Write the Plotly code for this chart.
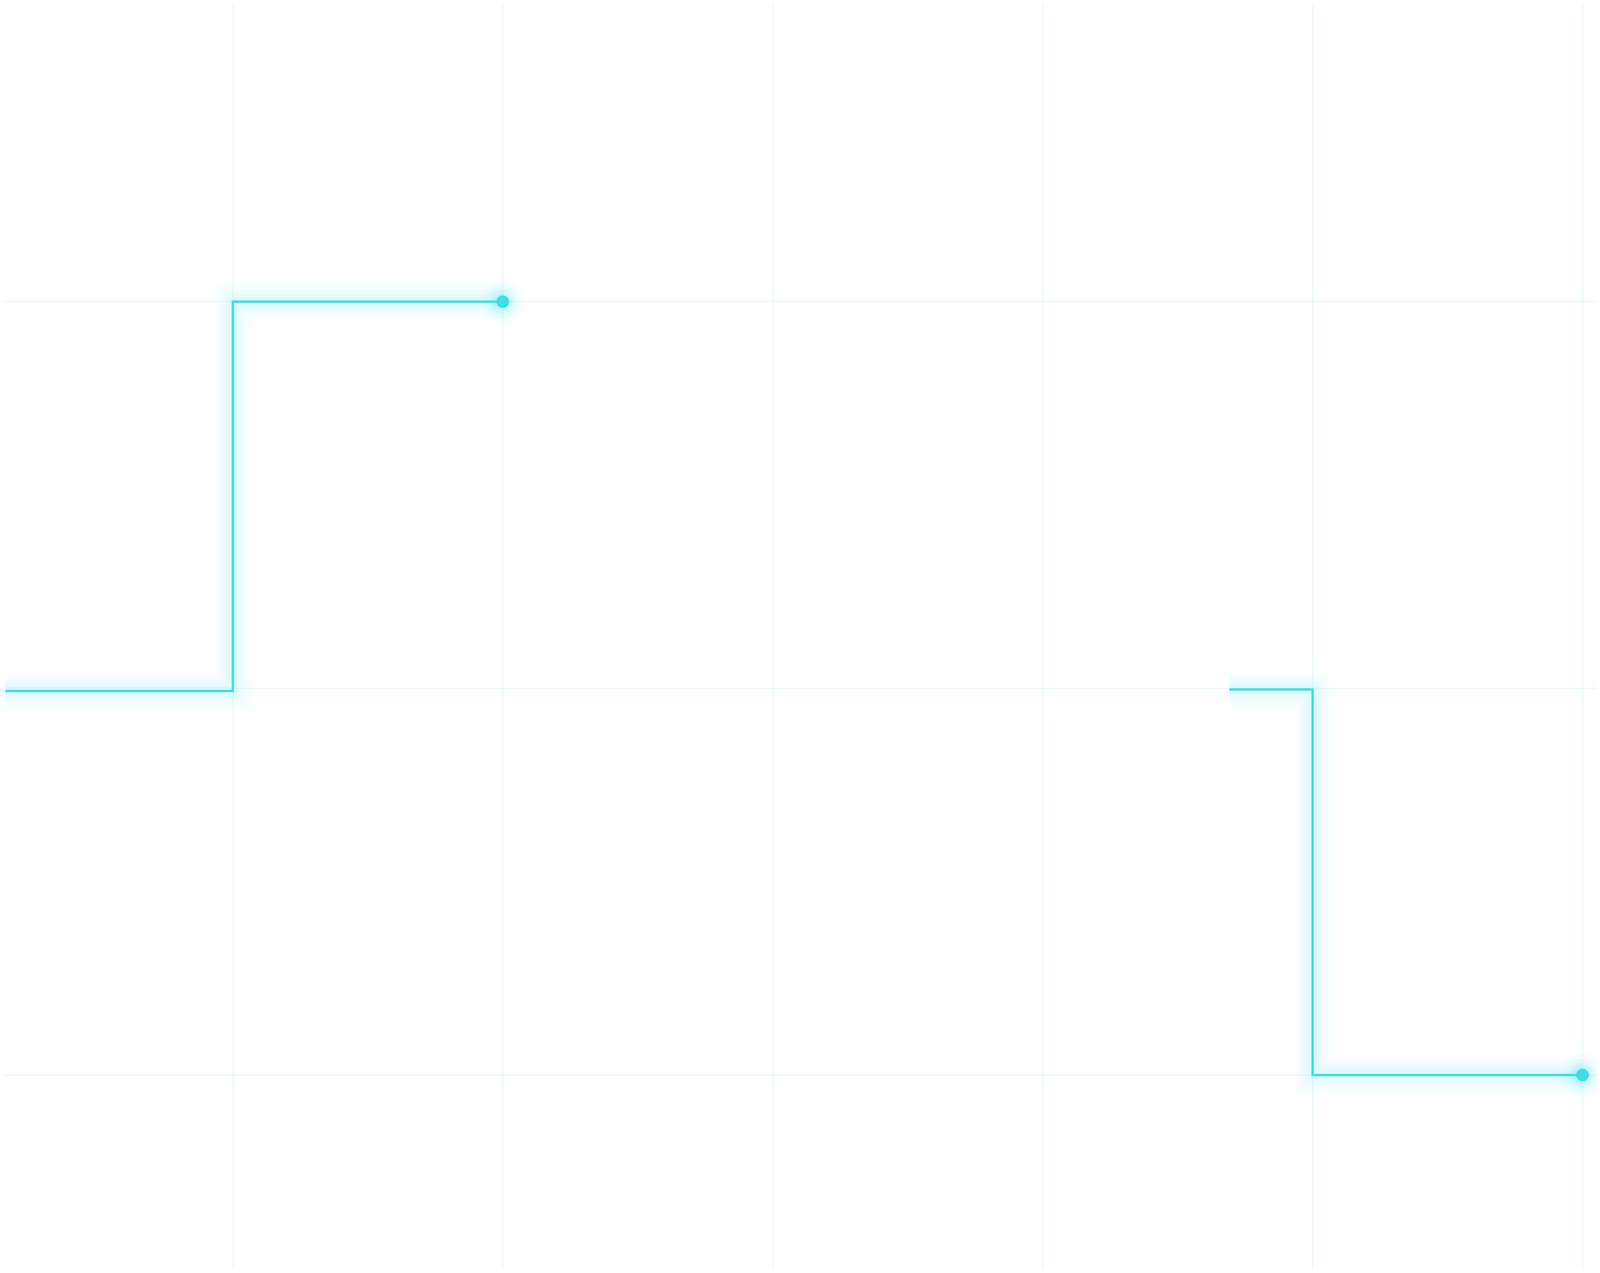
import plotly.graph_objects as go

# step series, two runs split by a gap (None)
x_vals = [0.157, 1, 2, None, 4.692, 5, 6]
y_vals = [1.993, 3, 3, None, 1.997, 1, 1]

# end-of-run points that get a dot
end_x = [2, 6]
end_y = [3, 1]

line_color = "#40dde3"
glow_color = "0, 225, 240"

fig = go.Figure()

# soft glow: several wide, faint copies under the main line
for w, a in [(100, 0.014), (80, 0.018), (60, 0.024), (40, 0.032), (22, 0.045)]:
    fig.add_trace(go.Scatter(
        x=x_vals, y=y_vals, mode="lines",
        line=dict(shape="hv", width=w, color=f"rgba({glow_color},{a})"),
        connectgaps=False, hoverinfo="skip", showlegend=False,
    ))
for s, a in [(110, 0.03), (85, 0.045), (62, 0.07), (45, 0.09)]:
    fig.add_trace(go.Scatter(
        x=end_x, y=end_y, mode="markers",
        marker=dict(size=s, color=f"rgba({glow_color},{a})", line=dict(width=0)),
        hoverinfo="skip", showlegend=False,
    ))

fig.add_trace(go.Scatter(
    x=x_vals, y=y_vals, mode="lines",
    line=dict(shape="hv", width=6, color=line_color),
    connectgaps=False, showlegend=False,
))
fig.add_trace(go.Scatter(
    x=end_x, y=end_y, mode="markers",
    marker=dict(size=32, color=line_color, line=dict(width=0)),
    showlegend=False,
))

grid = "rgba(0, 190, 210, 0.07)"
fig.update_xaxes(range=[0.149, 6.053], dtick=1, tick0=0, showgrid=True, gridcolor=grid,
                 gridwidth=3, zeroline=False, showticklabels=False, showline=False)
fig.update_yaxes(range=[0.496, 3.772], dtick=1, tick0=0, showgrid=True, gridcolor=grid,
                 gridwidth=3, zeroline=False, showticklabels=False, showline=False)
fig.update_layout(
    margin=dict(l=0, r=0, t=0, b=0),
    paper_bgcolor="#fefefe",
    plot_bgcolor="#fefefe",
    showlegend=False,
)

fig.write_html("out.html")
